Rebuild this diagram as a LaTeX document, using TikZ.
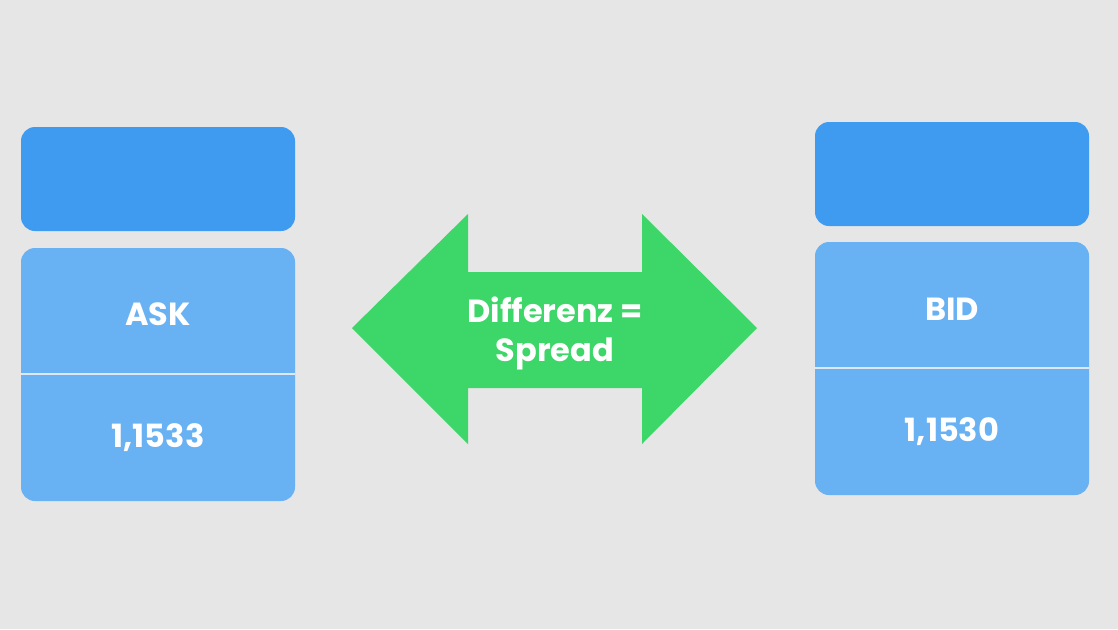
\documentclass[tikz,border=0pt]{standalone}
\usepackage{fontspec}
\setmainfont{Poppins}
\usepackage{xcolor}
\definecolor{bggray}{RGB}{230,230,230}
\definecolor{deepblue}{RGB}{63,155,240}
\definecolor{paleblue}{RGB}{104,177,243}
\definecolor{splitline}{RGB}{222,232,242}
\definecolor{spreadgreen}{RGB}{61,214,104}

\begin{document}
\begin{tikzpicture}[x=0.75pt,y=-0.75pt,
  headbox/.style={fill=deepblue,rounded corners=10.5pt,minimum width=205.5pt,minimum height=78pt,inner sep=0pt},
  pricebox/.style={fill=paleblue,rounded corners=10.5pt,minimum width=205.5pt,minimum height=189.75pt,inner sep=0pt},
  boxtext/.style={text=white,font=\bfseries\fontsize{24}{29}\selectfont,anchor=base,inner sep=0pt}]
  % background and frame of the picture
  \fill[bggray] (0,0) rectangle (1118,629);
  % left column: ask
  \node[headbox] (askhead) at (158,179) {};
  \node[pricebox] (askprice) at (158,374.5) {};
  \draw[splitline,line width=1.5pt] (askprice.west |- 0,374) -- (askprice.east |- 0,374);
  \node[boxtext] (asklabel) at (158,325) {ASK};
  \node[boxtext] (askvalue) at (158,447) {1,1533};
  % right column: bid
  \node[headbox] (bidhead) at (952,174) {};
  \node[pricebox] (bidprice) at (952,368.5) {};
  \draw[splitline,line width=1.5pt] (bidprice.west |- 0,368) -- (bidprice.east |- 0,368);
  \node[boxtext] (bidlabel) at (952,320) {BID};
  \node[boxtext] (bidvalue) at (952,441) {1,1530};
  % double arrow in the middle
  \fill[spreadgreen] (352,328) -- (468,214) -- (468,272) -- (642,272) -- (642,214)
    -- (757,328) -- (642,444) -- (642,388) -- (468,388) -- (468,444) -- cycle;
  \node[boxtext] (spreadtop) at (555,322) {Differenz =};
  \node[boxtext] (spreadbottom) at (555,361) {Spread};
\end{tikzpicture}
\end{document}
